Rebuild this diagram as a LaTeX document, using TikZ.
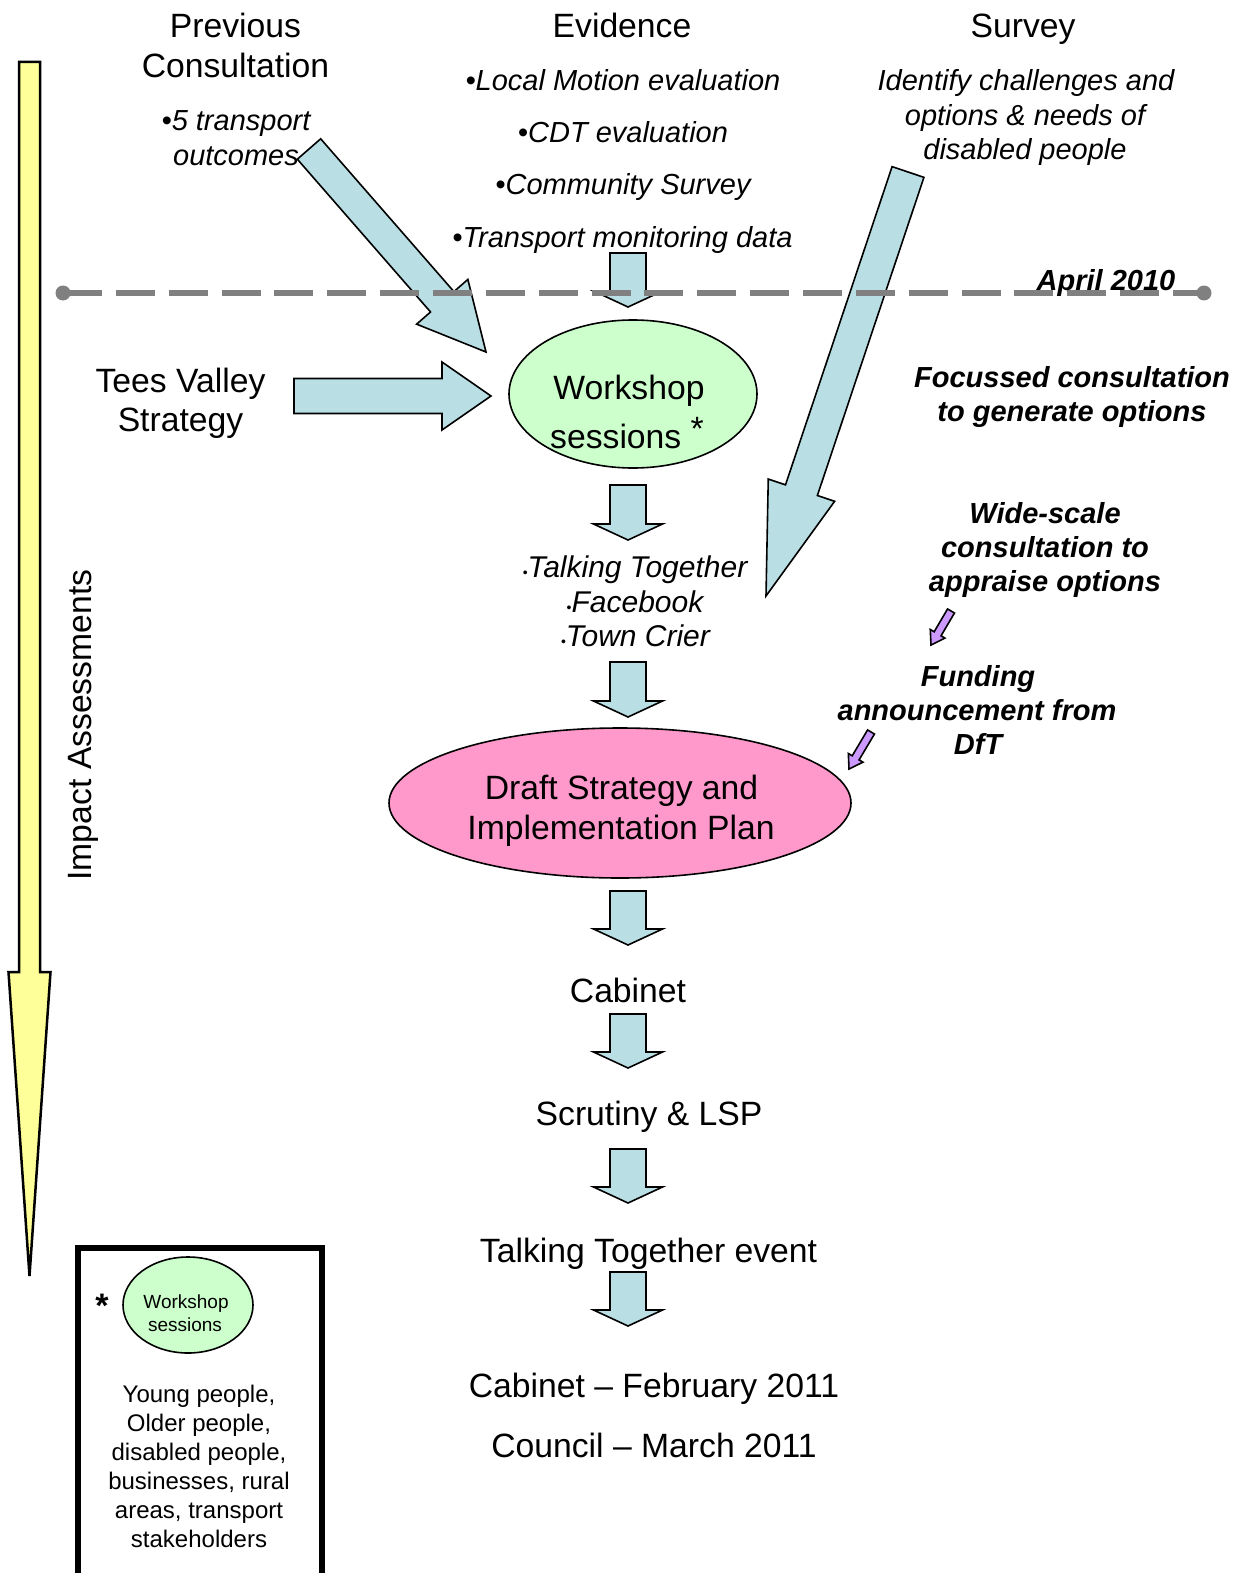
\documentclass[tikz,border=0pt]{standalone}
\usepackage{fontspec}
\setmainfont{Liberation Sans}
\usetikzlibrary{calc,shapes.geometric}
\definecolor{ablue}{RGB}{185,223,229}
\definecolor{ayellow}{RGB}{255,255,153}
\definecolor{agreen}{RGB}{204,255,204}
\definecolor{apink}{RGB}{255,153,204}
\definecolor{apurple}{RGB}{204,153,255}
\definecolor{agray}{RGB}{128,128,128}
\newcommand\fs[2]{\fontsize{#1}{#2}\selectfont}
% #1 style, #2 tail, #3 tip, #4 half shaft, #5 half head, #6 head length
\newcommand\blockarrow[6]{%
  \path ($(#3)!#6!(#2)$) coordinate (bah);
  \filldraw[#1] ($(#2)!#4!90:(#3)$) -- ($(bah)!#4!90:(#3)$) -- ($(bah)!#5!90:(#3)$) -- (#3)
    -- ($(bah)!#5!-90:(#3)$) -- ($(bah)!#4!-90:(#3)$) -- ($(#2)!#4!-90:(#3)$) -- cycle;}
\begin{document}
\begin{tikzpicture}[x=1pt,y=-1pt,
  ttl/.style={anchor=base,inner sep=0pt,font=\fs{33.7}{40}},
  itl/.style={anchor=base,inner sep=0pt,font=\fs{29}{34}\itshape},
  tit/.style={anchor=base,inner sep=0pt,font=\fs{30}{34}\itshape},
  bit/.style={anchor=base,inner sep=0pt,font=\fs{29}{34}\bfseries\itshape},
  leg/.style={anchor=base,inner sep=0pt,font=\fs{24}{29}},
  barrowst/.style={fill=ablue,draw=black,line width=1.6pt,line join=miter},
  parrowst/.style={fill=apurple,draw=black,line width=1.6pt,line join=miter},
  yarrowst/.style={fill=ayellow,draw=black,line width=2.5pt,line join=miter},
  ell/.style={ellipse,draw=black,line width=1.6pt,inner sep=0pt}]
\useasboundingbox (0,0) rectangle (1242,1573);

% yellow impact arrow
\coordinate (ytail) at (29.5,62);
\coordinate (ytip) at (29.5,1276);
\blockarrow{yarrowst}{ytail}{ytip}{10.5pt}{21pt}{304pt}
\node[ttl,rotate=90] (impact) at (91,725) {Impact Assessments};

% titles
\node[ttl] (prev1) at (235.5,38) {Previous};
\node[ttl] (prev2) at (235.5,78) {Consultation};
\node[ttl] (evid) at (622,38) {Evidence};
\node[ttl] (surv) at (1023,38) {Survey};

% previous consultation
\node[itl] (pc1) at (236,131) {•5 transport};
\node[itl] (pc2) at (236,166) {outcomes};

% evidence bullets
\node[itl] (ev1) at (623,91) {•Local Motion evaluation};
\node[itl] (ev2) at (623,143) {•CDT evaluation};
\node[itl] (ev3) at (623,195) {•Community Survey};
\node[itl] (ev4) at (622.5,247) {•Transport monitoring data};

% survey text
\node[itl] (sv1) at (1026,91) {Identify challenges and};
\node[itl] (sv2) at (1025,126) {options \& needs of};
\node[itl] (sv3) at (1025,160) {disabled people};

% Tees Valley
\node[ttl] (tv1) at (180.5,392) {Tees Valley};
\node[ttl] (tv2) at (180.5,431) {Strategy};

% ellipses
\node[ell,fill=agreen,minimum width=248,minimum height=148] (ws) at (633,394) {};
\node[ell,fill=apink,minimum width=462,minimum height=150] (draft) at (620,803) {};

% block arrows
\coordinate (pcA) at (309,149);
\coordinate (pcB) at (486,352);
\blockarrow{barrowst}{pcA}{pcB}{15.5pt}{34pt}{66.6pt}
\coordinate (svA) at (908,172);
\coordinate (svB) at (766,596);
\blockarrow{barrowst}{svA}{svB}{16.8pt}{35pt}{111.6pt}
\coordinate (tvA) at (294,396);
\coordinate (tvB) at (491,396);
\blockarrow{barrowst}{tvA}{tvB}{17.5pt}{34pt}{49pt}
\foreach \t/\b [count=\i] in {253/307,485/540,662/717,891/945,1014/1068,1149/1203,1272/1326}{
  \coordinate (dA\i) at (628,\t);
  \coordinate (dB\i) at (628,\b);
  \blockarrow{barrowst}{dA\i}{dB\i}{18pt}{34.5pt}{16pt}
}
\coordinate (pA1) at (951,611);
\coordinate (pB1) at (931,645);
\blockarrow{parrowst}{pA1}{pB1}{4pt}{8.5pt}{13pt}
\coordinate (pA2) at (871,732);
\coordinate (pB2) at (849,769);
\blockarrow{parrowst}{pA2}{pB2}{4pt}{8.5pt}{13pt}

% dashed April line
\coordinate (dl1) at (63,293);
\coordinate (dl2) at (1204,293);
\draw[agray,line width=6pt,dash pattern=on 39pt off 13.86pt] (dl1) -- (dl2);
\fill[agray] (dl1) circle (7.5pt) (dl2) circle (7.5pt);
\node[bit] (april) at (1106,290) {April 2010};

% workshop text
\node[ttl] (ws1) at (629,399) {Workshop};
\node[ttl] (ws2) at (627,448) {sessions \raisebox{8pt}{*}};

% right side notes
\node[bit] (fc1) at (1072,387) {Focussed consultation};
\node[bit] (fc2) at (1072,421) {to generate options};
\node[bit] (wd1) at (1045,523) {Wide-scale};
\node[bit] (wd2) at (1045,557) {consultation to};
\node[bit] (wd3) at (1045,591) {appraise options};
\node[bit] (fd1) at (978,686) {Funding};
\node[bit] (fd2) at (977,720) {announcement from};
\node[bit] (fd3) at (978,754) {DfT};

% talking together bullets
\node[tit] (tt1) at (635,577) {{\fs{14}{14}\upshape•}Talking Together};
\node[tit] (tt2) at (635,612) {{\fs{14}{14}\upshape•}Facebook};
\node[tit] (tt3) at (635.5,646) {{\fs{14}{14}\upshape•}Town Crier};

% draft text
\node[ttl] (dr1) at (621.5,799) {Draft Strategy and};
\node[ttl] (dr2) at (621,839) {Implementation Plan};

% lower steps
\node[ttl] (cab) at (628,1002) {Cabinet};
\node[ttl] (scr) at (649,1125) {Scrutiny \& LSP};
\node[ttl] (tte) at (648.5,1262) {Talking Together event};
\node[ttl] (cabf) at (654,1397) {Cabinet -- February 2011};
\node[ttl] (coun) at (654,1457) {Council -- March 2011};

% legend
\draw[line width=6pt,line join=miter] (78,1590) -- (78,1248) -- (321.5,1248) -- (321.5,1590);
\node[ttl,font=\fs{34}{40}\bfseries] (ast) at (102,1317) {*};
\node[ell,fill=agreen,minimum width=130,minimum height=96] (lws) at (188,1305) {};
\node[anchor=base,inner sep=0pt,font=\fs{19}{23}] (lws1) at (186,1308) {Workshop};
\node[anchor=base,inner sep=0pt,font=\fs{19}{23}] (lws2) at (185,1331) {sessions};
\node[leg] (lg1) at (199,1402) {Young people,};
\node[leg] (lg2) at (199,1431) {Older people,};
\node[leg] (lg3) at (199,1460) {disabled people,};
\node[leg] (lg4) at (199,1489) {businesses, rural};
\node[leg] (lg5) at (199,1518) {areas, transport};
\node[leg] (lg6) at (199,1547) {stakeholders};
\end{tikzpicture}
\end{document}
